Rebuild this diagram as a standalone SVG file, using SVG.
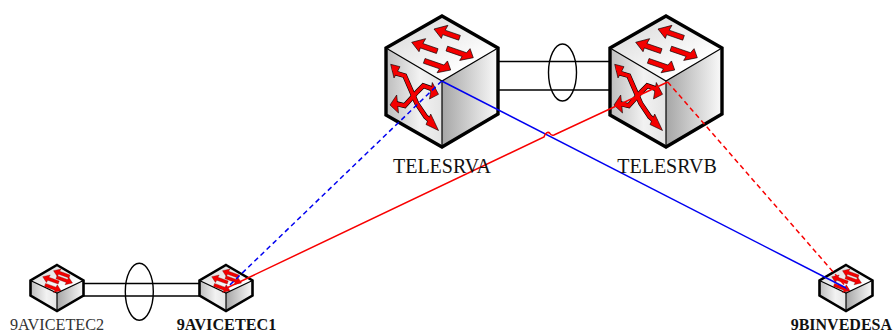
<svg xmlns="http://www.w3.org/2000/svg" width="893" height="333" viewBox="0 0 893 333">
<style>
.t{font-family:"Liberation Serif","Times New Roman",serif;fill:#111}
.big{font-size:20px;text-anchor:middle}
.small{font-size:16.2px;text-anchor:middle}
.b{font-weight:bold}
.out{fill:none;stroke:#000;stroke-width:3.4;stroke-linejoin:miter}
.outs{fill:none;stroke:#000;stroke-width:2.6;stroke-linejoin:miter}
.edge{fill:none;stroke:#000;stroke-width:1.2}
.link{fill:none;stroke:#000;stroke-width:1.4}
.conn{fill:none;stroke-width:1.5}
.dash{stroke-dasharray:5 3.5}
.arr{fill:#f40000;stroke:#000;stroke-width:0.6;stroke-linejoin:miter}
.arrs{fill:#f40000;stroke:#600;stroke-width:0.3}
.sk{fill:none;stroke:#000;stroke-width:5;stroke-linejoin:miter}
.sr{fill:none;stroke:#f40000;stroke-width:3.8;stroke-linejoin:miter}
</style>
<defs>
<linearGradient id="gt" x1="0" y1="0" x2="1" y2="1"><stop offset="0" stop-color="#d4d4d4"/><stop offset="0.75" stop-color="#fff"/><stop offset="1" stop-color="#fff"/></linearGradient>
<linearGradient id="gl" x1="0" y1="0" x2="1" y2="0"><stop offset="0" stop-color="#bdbdbd"/><stop offset="0.6" stop-color="#f2f2f2"/><stop offset="1" stop-color="#e4e4e4"/></linearGradient>
<linearGradient id="gr" x1="0" y1="0" x2="1" y2="0"><stop offset="0" stop-color="#a6a6a6"/><stop offset="1" stop-color="#fafafa"/></linearGradient>
<polygon id="ahl" points="0,0 12,-8 11,-2.500 27,-2.500 27,2.500 10,2.500 10,6.500"/>
<polygon id="ahr" points="0,0 12,-7 11,-2.500 28,-2.500 28,2.500 8,2.500 6,7.500"/>
<polygon id="ahs" points="0,0 6.500,-4.200 6,-1.600 17,-1.600 17,1.600 6,1.600 5.500,4.200"/>
<g id="bigcube">
<polygon points="56,0 112,32 56,65 0,32" fill="url(#gt)"/>
<polygon points="0,32 56,65 56,131 0,99" fill="url(#gl)"/>
<polygon points="56,65 112,32 112,98 56,131" fill="url(#gr)"/>
<polyline class="edge" points="0,32 56,65 112,32"/>
<line class="edge" x1="56" y1="65" x2="56" y2="131"/>
<polygon class="out" points="56,0 112,32 112,98 56,131 0,99 0,32"/>
<use href="#ahl" class="arr" transform="translate(48,13) rotate(19)"/>
<use href="#ahl" class="arr" transform="translate(25.700,26.300) rotate(19)"/>
<use href="#ahr" class="arr" transform="translate(87.300,41.700) rotate(199)"/>
<use href="#ahr" class="arr" transform="translate(64.700,54) rotate(199)"/>
<path class="sk" d="M8,53 L10.700,57.300 L18.700,59.700 L30.700,87.300 L39.700,100.700 L46,106"/>
<path class="sk" d="M9,87.300 L18.700,89.700 L31.300,75.700 L37.300,69.700 L44.700,72.300 L48,75"/>
<polygon class="arr" points="4.700,48.300 14,50.700 8,62"/>
<polygon class="arr" points="4,89 10.700,79 12.500,97"/>
<polygon class="arr" points="52.500,114.500 40,108.500 44.700,98"/>
<polygon class="arr" points="52.500,78.300 46.300,66.500 43.500,83"/>
<path class="sr" d="M7,52 L10.700,57.300 L18.700,59.700 L30.700,87.300 L39.700,100.700 L47,107"/>
<path class="sr" d="M8,87.300 L18.700,89.700 L31.300,75.700 L37.300,69.700 L44.700,72.300 L49,76"/>
</g>
<g id="smallsw">
<polygon points="26.500,0 53,15.500 26.500,28 0,15.500" fill="url(#gt)"/>
<polygon points="0,15.500 26.500,28 26.500,46 0,30.500" fill="url(#gl)"/>
<polygon points="26.500,28 53,15.500 53,30.500 26.500,46" fill="url(#gr)"/>
<polygon class="outs" points="26.500,0 53,15.500 53,30.500 26.500,46 0,30.500 0,15.500"/>
<polyline class="edge" points="0,15.500 26.500,28 53,15.500"/>
<line class="edge" x1="26.500" y1="28" x2="26.500" y2="46"/>
<use href="#ahs" class="arrs" transform="translate(23,5.700) rotate(20)"/>
<use href="#ahs" class="arrs" transform="translate(12.200,11.700) rotate(20)"/>
<use href="#ahs" class="arrs" transform="translate(42,18) rotate(200)"/>
<use href="#ahs" class="arrs" transform="translate(30.500,25.700) rotate(200)"/>
</g>
</defs>
<g id="n-telesrva" transform="translate(386,16)"><use href="#bigcube"/></g>
<g id="n-telesrvb" transform="translate(610,16)"><use href="#bigcube"/></g>
<g id="n-9avicetec2" transform="translate(30.500,265)"><use href="#smallsw"/></g>
<g id="n-9avicetec1" transform="translate(199.500,265)"><use href="#smallsw"/></g>
<g id="n-9binvedesa" transform="translate(819.500,265)"><use href="#smallsw"/></g>
<g id="connectors">
<line class="link" x1="498" y1="61.500" x2="610" y2="61.500"/>
<line class="link" x1="498" y1="90" x2="610" y2="90"/>
<ellipse class="link" cx="562.500" cy="72.500" rx="14" ry="28.500"/>
<line class="link" x1="83" y1="283.500" x2="200" y2="283.500"/>
<line class="link" x1="83" y1="296" x2="200" y2="296"/>
<ellipse class="link" cx="139.300" cy="291.700" rx="14" ry="28.500"/>
<line class="conn dash" stroke="#0000f0" x1="441.700" y1="81" x2="226.700" y2="288"/>
<line class="conn" stroke="#0000f0" x1="441.700" y1="81" x2="848" y2="289"/>
<path class="conn" stroke="#f80000" d="M226.700,288 L544,137 C545,133 548,131 550,133.500 C551,135.500 552,135.500 554,135 L667.700,82"/>
<line class="conn dash" stroke="#f80000" x1="667.700" y1="82" x2="848" y2="289"/>
</g>
<g id="labels">
<text class="t big" x="442" y="173">TELESRVA</text>
<text class="t big" x="667" y="173">TELESRVB</text>
<text class="t small" x="57" y="329.500" style="fill:#333">9AVICETEC2</text>
<text class="t small b" x="226.500" y="329.500">9AVICETEC1</text>
<text class="t small b" x="892" y="329.500" style="text-anchor:end;font-size:16px">9BINVEDESA</text>
</g>
</svg>
